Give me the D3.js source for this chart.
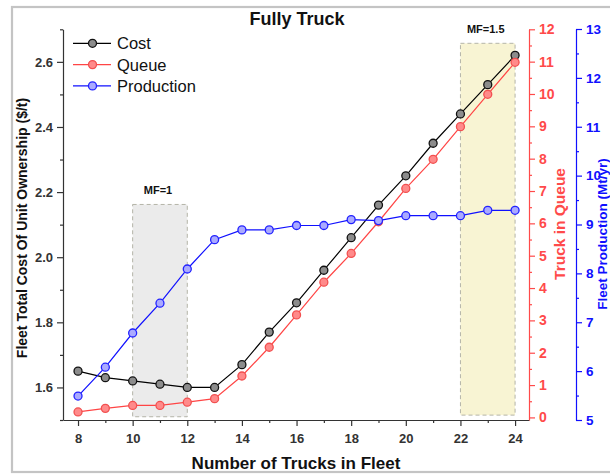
<!DOCTYPE html>
<html>
<head>
<meta charset="utf-8">
<script src="https://cdn.jsdelivr.net/npm/d3@7"></script>
<style>
  html, body { margin: 0; padding: 0; background: #fff; }
  svg { display: block; font-family: "Liberation Sans", Arial, sans-serif; }
</style>
</head>
<body>
<svg id="chart" width="610" height="474"></svg>
<script>
// Fleet size (number of trucks)
const trucks = [8, 9, 10, 11, 12, 13, 14, 15, 16, 17, 18, 19, 20, 21, 22, 23, 24];
// Fleet total cost of unit ownership ($/t)
const cost = [1.65, 1.63, 1.62, 1.61, 1.60, 1.60, 1.67, 1.77, 1.86, 1.96, 2.06, 2.16, 2.25, 2.35, 2.44, 2.53, 2.62];
// Trucks waiting in queue
const queue = [0.17, 0.28, 0.37, 0.37, 0.47, 0.58, 1.28, 2.17, 3.17, 4.18, 5.07, 6.05, 7.08, 7.98, 8.99, 9.99, 10.98];
// Fleet production (Mt/yr)
const production = [5.49, 6.08, 6.78, 7.39, 8.09, 8.69, 8.89, 8.89, 8.98, 8.98, 9.10, 9.08, 9.18, 9.18, 9.18, 9.29, 9.29];

const xTicks = [8, 10, 12, 14, 16, 18, 20, 22, 24];
const costTicks = [1.6, 1.8, 2.0, 2.2, 2.4, 2.6];
const queueTicks = [0, 1, 2, 3, 4, 5, 6, 7, 8, 9, 10, 11, 12];
const prodTicks = [5, 6, 7, 8, 9, 10, 11, 12, 13];

// Match-factor bands: truck range and cost range they cover
const bands = [
  { x0: 10, x1: 12, y0: 1.51, y1: 2.162, label: "MF=1", fill: "#ebebeb" },
  { x0: 22, x1: 24, y0: 1.515, y1: 2.657, label: "MF=1.5", fill: "#f8f4d3" }
];

const RED = "#ff4a4a";
const BLUE = "#1010ff";
const AXIS = "#333";

const svg = d3.select("#chart");

// outer frame
svg.append("rect").attr("x", 12).attr("y", 7).attr("width", 640).attr("height", 465)
  .attr("fill", "none").attr("stroke", "#c4c4c4").attr("stroke-width", 2.2);

const x = d3.scaleLinear().domain([7.45, 24.51]).range([63, 529]);
const yCost = d3.scaleLinear().domain([1.5, 2.7]).range([420, 29.3]);
const yQueue = d3.scaleLinear().domain([-0.08, 12]).range([420, 29.3]);
const yProd = d3.scaleLinear().domain([5, 13]).range([420, 29]);

// bands
const bandG = svg.append("g");
bands.forEach(b => {
  bandG.append("rect")
    .attr("x", x(b.x0)).attr("y", yCost(b.y1))
    .attr("width", x(b.x1) - x(b.x0)).attr("height", yCost(b.y0) - yCost(b.y1))
    .attr("fill", b.fill).attr("stroke", "#b4b4a8").attr("stroke-width", 1)
    .attr("stroke-dasharray", "4,3");
  bandG.append("text")
    .attr("x", (x(b.x0) + x(b.x1)) / 2 - 2).attr("y", yCost(b.y1) - 10)
    .attr("text-anchor", "middle").attr("font-size", 11).attr("font-weight", "bold")
    .attr("fill", "#111").text(b.label);
});

function styleAxis(g, color, fontSize) {
  g.select(".domain").attr("stroke", color).attr("stroke-width", 1.2);
  g.selectAll(".tick line").attr("stroke", color).attr("stroke-width", 1.2);
  g.selectAll(".tick text").attr("fill", color).attr("font-size", fontSize)
    .attr("font-weight", "bold").attr("font-family", "Liberation Sans, Arial, sans-serif");
}
function minor(g, color) {
  g.select(".domain").remove();
  g.selectAll(".tick text").remove();
  g.selectAll(".tick line").attr("stroke", color).attr("stroke-width", 1.2);
}

// x axis
const xMinor = svg.append("g").attr("transform", "translate(0,420)")
  .call(d3.axisBottom(x).tickValues(d3.range(9, 24, 2)).tickSize(3).tickFormat(""));
minor(xMinor, AXIS);
const xAxis = svg.append("g").attr("transform", "translate(0,420)")
  .call(d3.axisBottom(x).tickValues(xTicks).tickSize(6).tickPadding(8).tickSizeOuter(0));
styleAxis(xAxis, AXIS, 13);

// left axis (cost)
const lMinor = svg.append("g").attr("transform", "translate(63,0)")
  .call(d3.axisLeft(yCost).tickValues([1.5, 1.7, 1.9, 2.1, 2.3, 2.5, 2.7]).tickSize(3).tickFormat(""));
minor(lMinor, AXIS);
const lAxis = svg.append("g").attr("transform", "translate(63,0)")
  .call(d3.axisLeft(yCost).tickValues(costTicks).tickSize(6).tickPadding(4).tickSizeOuter(0)
    .tickFormat(d3.format(".1f")));
styleAxis(lAxis, AXIS, 13);

// red axis (queue)
const rMinor = svg.append("g").attr("transform", "translate(529,0)")
  .call(d3.axisRight(yQueue).tickValues(d3.range(0.5, 12, 1)).tickSize(3).tickFormat(""));
minor(rMinor, RED);
const rAxis = svg.append("g").attr("transform", "translate(529,0)")
  .call(d3.axisRight(yQueue).tickValues(queueTicks).tickSize(6).tickPadding(4).tickSizeOuter(0));
styleAxis(rAxis, RED, 14);

// blue axis (production)
const bMinor = svg.append("g").attr("transform", "translate(576,0)")
  .call(d3.axisRight(yProd).tickValues(d3.range(5.5, 13, 1)).tickSize(3).tickFormat(""));
minor(bMinor, BLUE);
const bAxis = svg.append("g").attr("transform", "translate(576,0)")
  .call(d3.axisRight(yProd).tickValues(prodTicks).tickSize(6).tickPadding(4).tickSizeOuter(0));
styleAxis(bAxis, BLUE, 13.5);

// series: line, then white-backed translucent markers
const series = [
  { name: "Cost", values: cost, y: yCost, line: "#000", fill: "#000", fillOp: 0.45, stroke: "#111" },
  { name: "Queue", values: queue, y: yQueue, line: "#ff4545", fill: "#ff2a2a", fillOp: 0.55, stroke: "#f25050" },
  { name: "Production", values: production, y: yProd, line: BLUE, fill: "#2a2aff", fillOp: 0.4, stroke: "#2222ff" }
];

series.forEach(s => {
  const pts = trucks.map((t, i) => [t, s.values[i]]);
  svg.append("path").datum(pts)
    .attr("fill", "none").attr("stroke", s.line).attr("stroke-width", 1.2)
    .attr("d", d3.line().x(d => x(d[0])).y(d => s.y(d[1])));
  svg.append("g").selectAll("circle").data(pts).join("circle")
    .attr("cx", d => x(d[0])).attr("cy", d => s.y(d[1])).attr("r", 4)
    .attr("fill", "#fff");
  svg.append("g").selectAll("circle").data(pts).join("circle")
    .attr("cx", d => x(d[0])).attr("cy", d => s.y(d[1])).attr("r", 4)
    .attr("fill", s.fill).attr("fill-opacity", s.fillOp)
    .attr("stroke", s.stroke).attr("stroke-width", 1.3);
});

// legend
const legend = svg.append("g");
series.forEach((s, i) => {
  const yy = 43.3 + i * 21.3;
  legend.append("line").attr("x1", 73).attr("x2", 111).attr("y1", yy).attr("y2", yy)
    .attr("stroke", s.line).attr("stroke-width", 1.2);
  legend.append("circle").attr("cx", 92.5).attr("cy", yy).attr("r", 4).attr("fill", "#fff");
  legend.append("circle").attr("cx", 92.5).attr("cy", yy).attr("r", 4)
    .attr("fill", s.fill).attr("fill-opacity", s.fillOp)
    .attr("stroke", s.stroke).attr("stroke-width", 1.3);
  legend.append("text").attr("x", 117).attr("y", yy + 6)
    .attr("font-size", 16.5).attr("fill", "#111").text(s.name);
});

// titles
svg.append("text").attr("x", 297).attr("y", 25).attr("text-anchor", "middle")
  .attr("font-size", 18).attr("font-weight", "bold").attr("fill", "#111").text("Fully Truck");
svg.append("text").attr("x", 296).attr("y", 469).attr("text-anchor", "middle")
  .attr("font-size", 17).attr("font-weight", "bold").attr("fill", "#111").text("Number of Trucks in Fleet");
svg.append("text").attr("transform", "translate(27,228) rotate(-90)").attr("text-anchor", "middle")
  .attr("font-size", 14).attr("font-weight", "bold").attr("fill", "#111")
  .text("Fleet Total Cost Of Unit Ownership ($/t)");
svg.append("text").attr("transform", "translate(565,224) rotate(-90)").attr("text-anchor", "middle")
  .attr("font-size", 15.5).attr("font-weight", "bold").attr("fill", RED).text("Truck in Queue");
svg.append("text").attr("transform", "translate(607,234) rotate(-90)").attr("text-anchor", "middle")
  .attr("font-size", 13.5).attr("font-weight", "bold").attr("fill", BLUE).text("Fleet Production (Mt/yr)");
</script>
</body>
</html>
